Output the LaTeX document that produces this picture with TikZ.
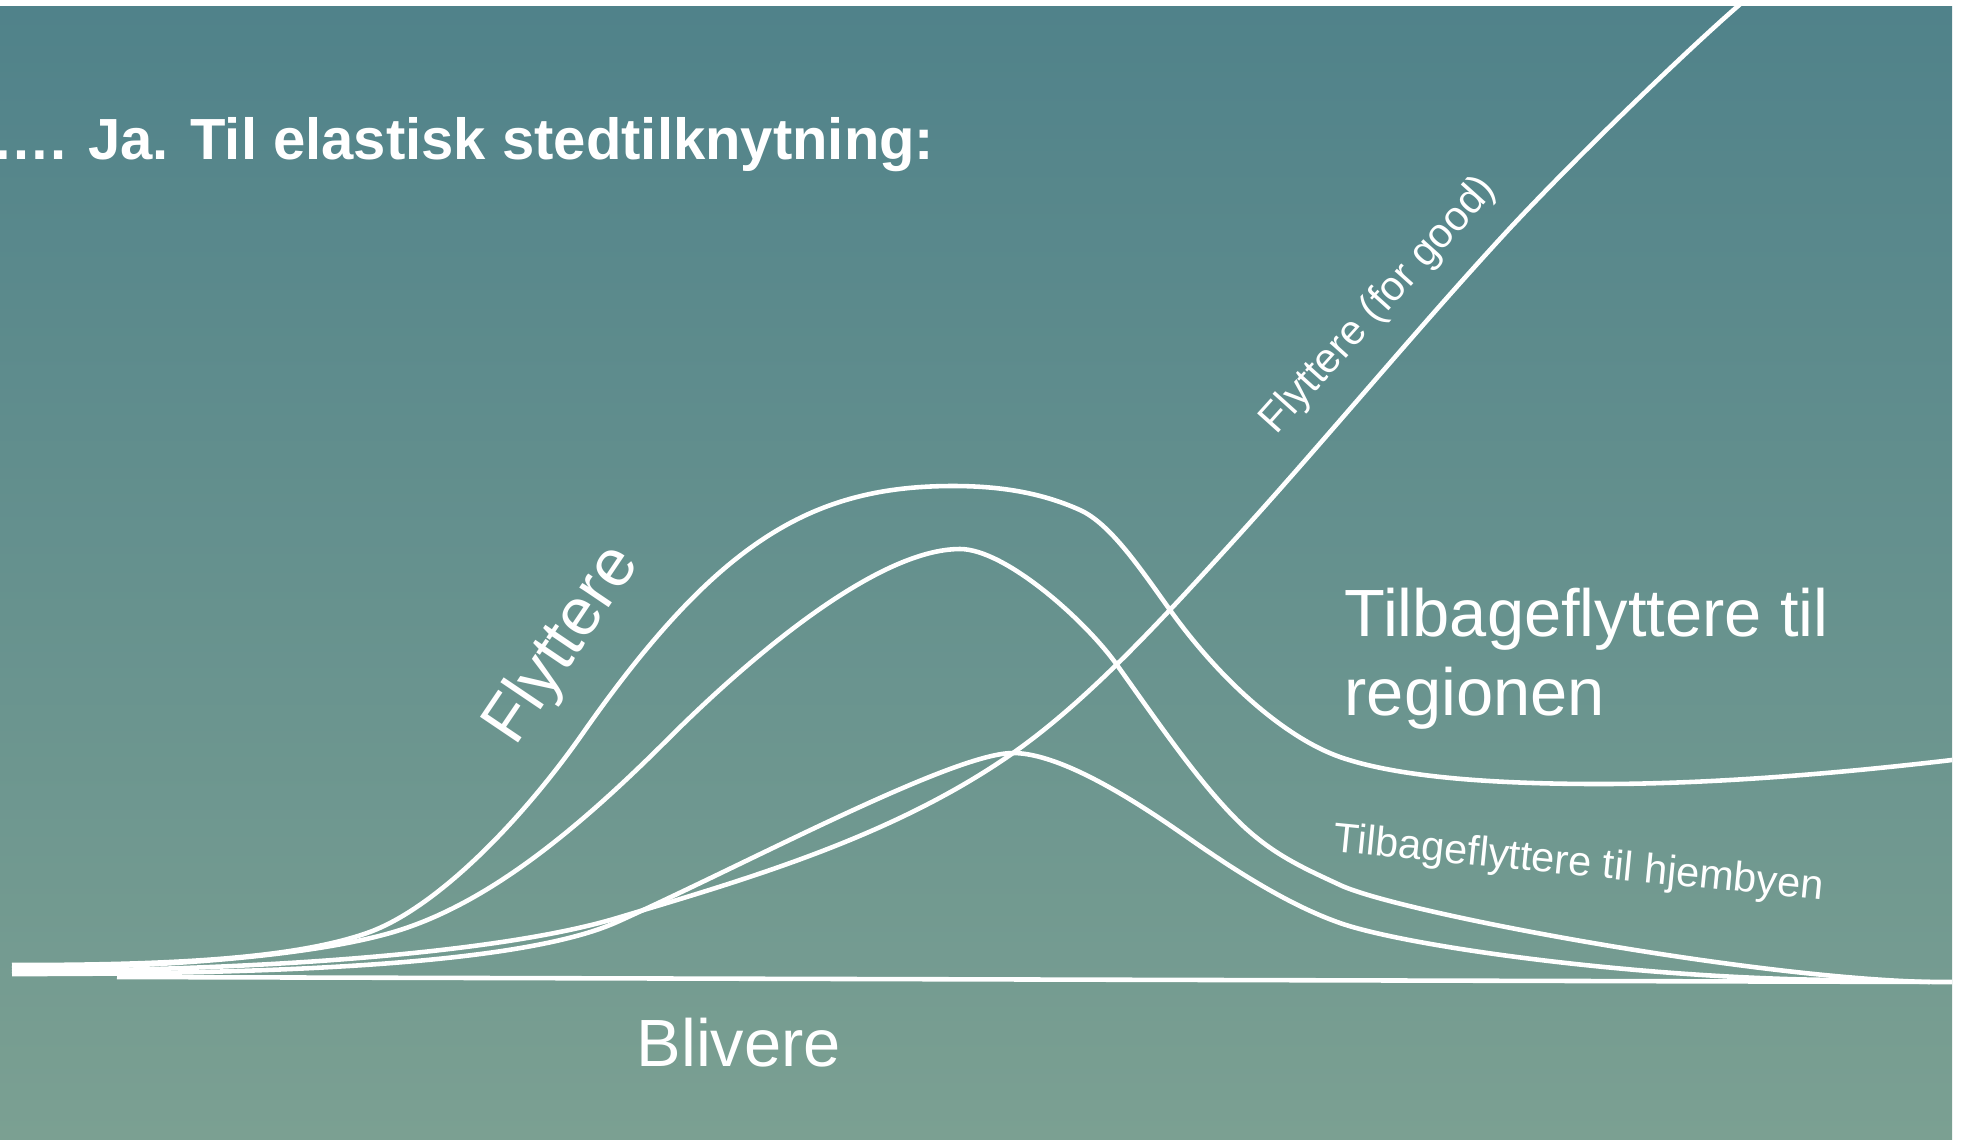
\documentclass[tikz,border=0pt]{standalone}
\usepackage{fontspec}
\setmainfont{Liberation Sans}
\definecolor{bgtop}{HTML}{50828A}
\definecolor{bgbot}{HTML}{7BA092}

\begin{document}
\begin{tikzpicture}[
    x=0.01cm, y=-0.01cm,
    curve/.style={draw=white, line width=1.3pt},
    titletext/.style={text=white, inner sep=0pt, font=\bfseries\fontsize{16.5}{20}\selectfont},
    biglabel/.style={text=white, inner sep=0pt, align=left, font=\fontsize{19}{22.5}\selectfont},
    smalllabel/.style={text=white, inner sep=0pt, font=\fontsize{11.8}{14}\selectfont}
]
\useasboundingbox (0,0) rectangle (1964,1139);

% 1. Bakgrunn
\fill[white] (0,0) rectangle (1964,1139);
\shade[top color=bgtop, bottom color=bgbot] (0,6) rectangle (1952,1139);

% 2. Tittel
\node[titletext, anchor=base west] (title) at (-8,159) {…. Ja. Til elastisk stedtilknytning:};

% 3. Kurver
\begin{scope}
\clip (0,6) rectangle (1952,1139);
% tilbageflyttere til regionen
\draw[curve] (12,965) .. controls (150,965) and (287,961) .. (367,933)
    .. controls (437,908.5) and (523,818.8) .. (583,733)
    .. controls (718,540) and (813,486) .. (953,486)
    .. controls (998,486) and (1040,492) .. (1080,510)
    .. controls (1110,523.5) and (1140,568) .. (1170,610)
    .. controls (1220,680) and (1285,737.7) .. (1340,757)
    .. controls (1400,778) and (1500,784) .. (1600,784)
    .. controls (1720,784) and (1850,772) .. (1952,760);
% midtre kurve
\draw[curve] (12,968) .. controls (160,968) and (320,955.6) .. (400,930)
    .. controls (490,901.2) and (577,830) .. (667,740)
    .. controls (757,650) and (880,549) .. (960,549)
    .. controls (1005,549) and (1085,620) .. (1117,665)
    .. controls (1157,721) and (1197,780) .. (1237,820)
    .. controls (1272,855) and (1305,868.5) .. (1340,885)
    .. controls (1400,913) and (1750,978) .. (1930,982);
% tilbageflyttere til hjembyen
\draw[curve] (12,974) .. controls (250,974) and (517,967) .. (617,922)
    .. controls (747,863.5) and (953,753) .. (1013,753)
    .. controls (1063,753) and (1142,805.5) .. (1187,837)
    .. controls (1237,872) and (1290,905.5) .. (1340,923)
    .. controls (1410,947.5) and (1650,980) .. (1850,980);
% flyttere (for good)
\draw[curve] (12,971) .. controls (250,971) and (497,954) .. (617,918)
    .. controls (747,879) and (893,837) .. (1013,753)
    .. controls (1088,700.5) and (1162,619.5) .. (1237,537)
    .. controls (1327,438) and (1421,324) .. (1511,227)
    .. controls (1586,147) and (1700,38) .. (1745,0);
% blivere
\coordinate (blivstart) at (117,977);
\coordinate (blivend) at (1952,982);
\draw[curve] (blivstart) -- (blivend);
\end{scope}

% 4. Etiketter
\node[biglabel, rotate=56, anchor=base west] (flyttere) at (515,748) {Flyttere};
\node[smalllabel, rotate=48, anchor=base west] (forgood) at (1276,436) {Flyttere (for good)};
\node[biglabel, anchor=north west] (region) at (1344,587) {Tilbageflyttere til\\regionen};
\node[smalllabel, rotate=-5.7, anchor=base west] (hjemby) at (1332,851) {Tilbageflyttere til hjembyen};
\node[biglabel, anchor=base west] (blivere) at (636,1066) {Blivere};

\end{tikzpicture}
\end{document}
